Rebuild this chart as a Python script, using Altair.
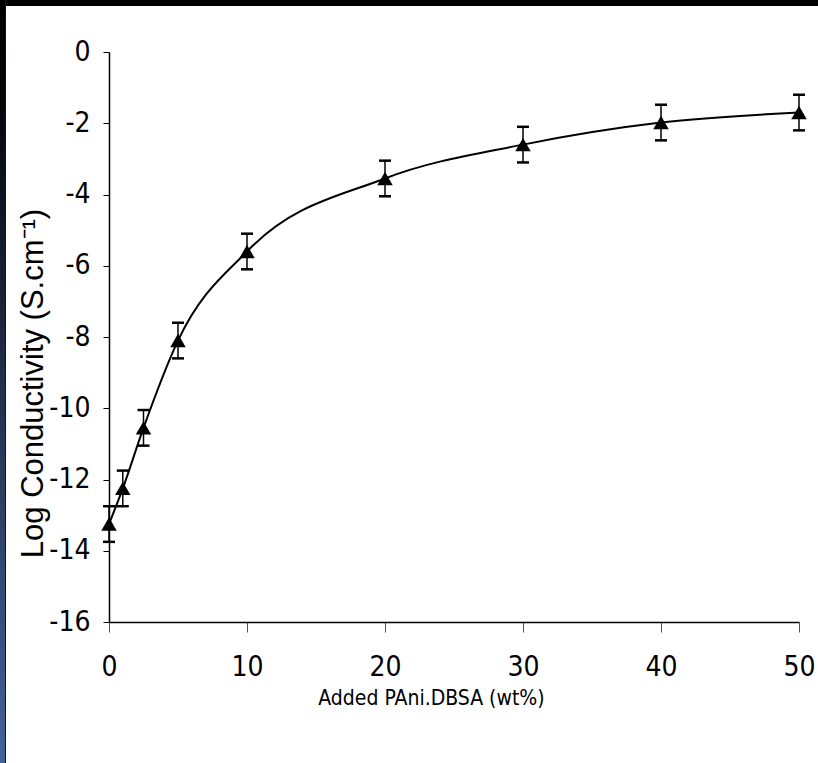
import altair as alt
import pandas as pd

# Data
added_wt = [0, 1, 2.5, 5, 10, 20, 30, 40, 50]
log_cond = [-13.25, -12.25, -10.55, -8.1, -5.6, -3.55, -2.6, -1.98, -1.7]
err = [0.5, 0.5, 0.5, 0.5, 0.5, 0.5, 0.5, 0.5, 0.5]

x_ticks = [0, 10, 20, 30, 40, 50]
y_ticks = [-16, -14, -12, -10, -8, -6, -4, -2, 0]

df = pd.DataFrame({"x": added_wt, "y": log_cond, "e": err})
df["lo"] = df["y"] - df["e"]
df["hi"] = df["y"] + df["e"]

W, H = 690, 570
PL, PT, PR, PB = 109, 52, 19, 141
FONT = "'Liberation Sans Narrow', 'Arial Narrow', 'DejaVu Sans Condensed', 'Roboto Condensed', 'Liberation Sans'"

xs = alt.Scale(domain=[0, 50], nice=False)
ys = alt.Scale(domain=[-16, 0], nice=False)

xax = alt.Axis(values=x_ticks, title="Added PAni.DBSA (wt%)", grid=False,
               tickSize=10, labelPadding=21, labelFontSize=28, labelFont=FONT,
               labelExpr="'' + datum.value", labelFlush=False,
               titleFont=FONT, titleFontSize=21, titleFontWeight="normal",
               titleX=322, titleY=76, titleBaseline="middle", titleAlign="center",
               domainColor="black", tickColor="#555", labelColor="black",
               titleColor="black", domainWidth=1.5)
yax = alt.Axis(values=y_ticks, title="Log Conductivity (S.cm⁻¹)", grid=False,
               tickSize=6, labelPadding=13, labelFontSize=28, labelFont=FONT,
               labelExpr="'' + datum.value", labelFlush=False,
               titleFont="Liberation Sans", titleFontSize=31, titleFontWeight="normal",
               titleX=-76, titleY=331, titleAngle=-90, titleBaseline="middle",
               titleAlign="center", domainColor="black", tickColor="black",
               labelColor="black", titleColor="black", domainWidth=1.5)

base = alt.Chart(df)

line = base.mark_line(color="black", strokeWidth=2, interpolate="monotone").encode(
    x=alt.X("x:Q", scale=xs, axis=xax),
    y=alt.Y("y:Q", scale=ys, axis=yax),
)
rule = base.mark_rule(color="black", strokeWidth=1.5, opacity=1).encode(
    x=alt.X("x:Q", scale=xs), y=alt.Y("lo:Q", scale=ys), y2="hi:Q"
)
cap_lo = base.mark_tick(color="black", size=12, thickness=2.5, orient="horizontal", opacity=1).encode(
    x=alt.X("x:Q", scale=xs), y=alt.Y("lo:Q", scale=ys)
)
cap_hi = base.mark_tick(color="black", size=12, thickness=2.5, orient="horizontal", opacity=1).encode(
    x=alt.X("x:Q", scale=xs), y=alt.Y("hi:Q", scale=ys)
)
pts = base.mark_point(shape="triangle-up", filled=True, color="black", size=240, opacity=1).encode(
    x=alt.X("x:Q", scale=xs), y=alt.Y("y:Q", scale=ys)
)

deco = alt.Chart(pd.DataFrame({"d": [0]}))
top_border = deco.mark_rect(color="black").encode(
    x=alt.value(-PL), x2=alt.value(W + PR), y=alt.value(-PT), y2=alt.value(-PT + 6)
)
grad = alt.LinearGradient(
    gradient="linear",
    stops=[alt.GradientStop(color="#000000", offset=0),
           alt.GradientStop(color="#05070c", offset=0.15),
           alt.GradientStop(color="#1e2a42", offset=0.45),
           alt.GradientStop(color="#44629a", offset=1)],
    x1=0, x2=0, y1=0, y2=1,
)
left_border = deco.mark_rect(color=grad).encode(
    x=alt.value(-PL), x2=alt.value(-PL + 5), y=alt.value(-PT), y2=alt.value(H + PB)
)
left_line = deco.mark_rect(color="#10141c").encode(
    x=alt.value(-PL + 5), x2=alt.value(-PL + 6), y=alt.value(-PT), y2=alt.value(H + PB)
)

chart = alt.layer(line, rule, cap_lo, cap_hi, pts, top_border, left_border, left_line).properties(
    width=W, height=H,
    autosize=alt.AutoSizeParams(type="none"),
    padding={"left": PL, "top": PT, "right": PR, "bottom": PB},
    background="white",
).configure_view(stroke=None)

chart.save("out.html", embed_options={"renderer": "svg", "actions": False})
